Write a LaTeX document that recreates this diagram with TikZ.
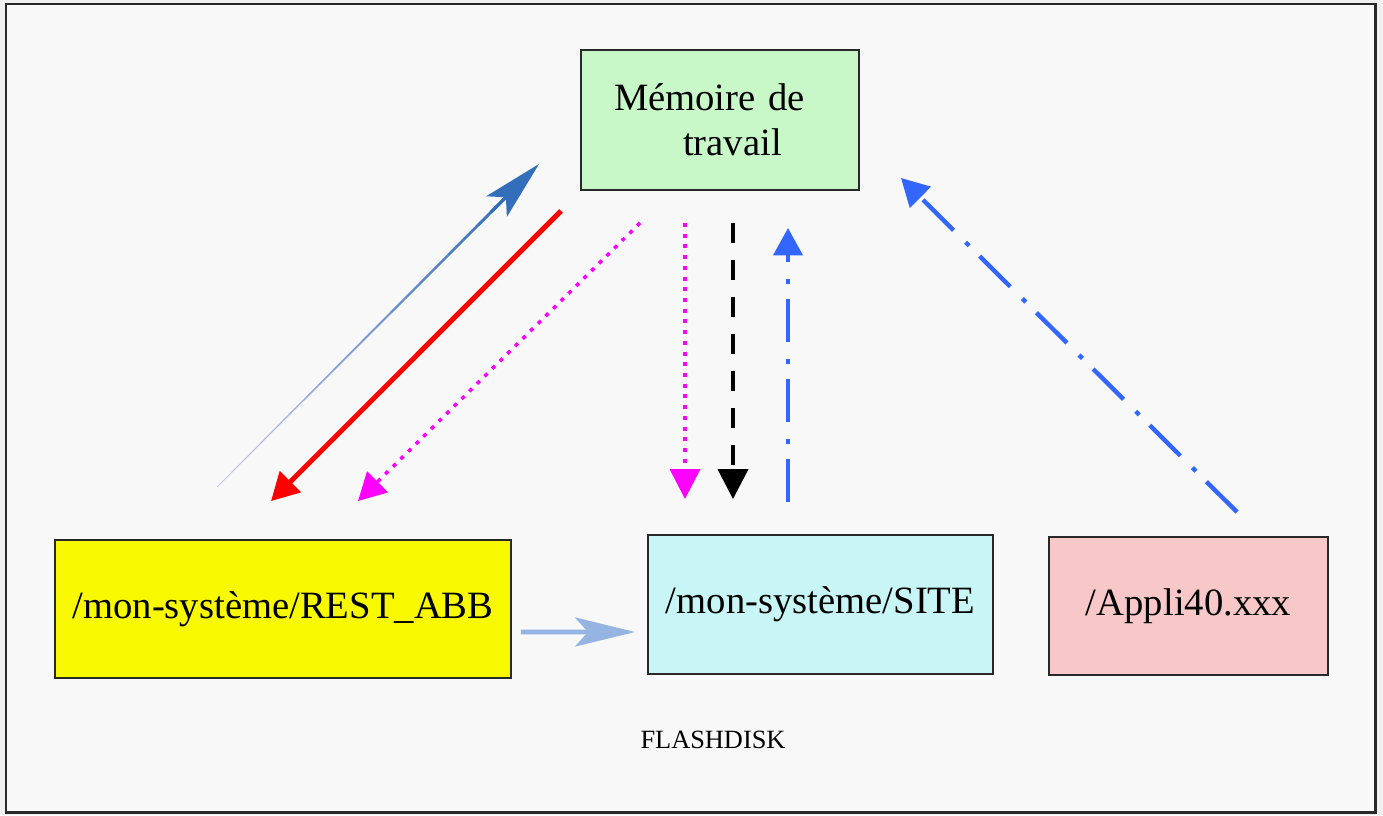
\documentclass[tikz,border=0pt]{standalone}
\usepackage{fontspec}
\setmainfont{Liberation Serif}
\usetikzlibrary{positioning, arrows.meta, calc}
\definecolor{bgcolor}{RGB}{248,248,248}
\definecolor{outcolor}{RGB}{240,240,240}
\definecolor{framecolor}{RGB}{40,40,40}
\definecolor{memcolor}{RGB}{200,248,200}
\definecolor{restcolor}{RGB}{248,248,0}
\definecolor{sitecolor}{RGB}{200,246,246}
\definecolor{applicolor}{RGB}{248,200,200}
\definecolor{dotcolor}{RGB}{255,0,255}
\definecolor{chaincolor}{RGB}{51,102,255}
\definecolor{steelcolor}{RGB}{50,110,185}
\definecolor{lavcolor}{RGB}{205,200,235}
\definecolor{pipecolor}{RGB}{150,180,225}

\begin{document}
\begin{tikzpicture}[x=0.02cm, y=-0.02cm,
    bloc/.style={draw=framecolor, line width=1.1pt, rectangle, inner sep=0pt, font=\fontsize{22}{25.6}\selectfont},
    fadetip/.style={-{Stealth[length=1.2cm, width=0.58cm, inset=0.26cm]}},
    flattip/.style={-{Triangle[length=0.55cm, width=0.58cm]}},
    droptip/.style={-{Triangle[length=0.6cm, width=0.6cm]}},
    chain/.style={chaincolor, line width=2.5pt, dash pattern=on 24.5pt off 8.5pt on 2.8pt off 9.7pt}]
    % Fond et cadre
    \path[use as bounding box, fill=outcolor] (0,0) rectangle (1383,815);
    \draw[framecolor, line width=1.7pt, fill=bgcolor] (6,4) rectangle (1375,812);

    % Blocs
    \node[bloc, fill=memcolor, minimum width=5.56cm, minimum height=2.8cm, text width=4.24cm, align=left] (mem) at (720,120) {Mémoire de\\\hspace*{1.38cm}travail};
    \node[bloc, fill=restcolor, minimum width=9.12cm, minimum height=2.76cm] (rest) at (283,609) {/mon-système/REST\_ABB};
    \node[bloc, fill=sitecolor, minimum width=6.9cm, minimum height=2.78cm] (site) at (820.5,604.5) {/mon-système/SITE};
    \node[bloc, fill=applicolor, minimum width=5.58cm, minimum height=2.76cm] (appli) at (1188.5,606) {/Appli40.xxx};
    \node[font=\fontsize{15}{18}\selectfont] (flash) at (713,740) {FLASHDISK};

    % Fleche degradee (REST_ABB vers memoire)
    \coordinate (up-tail) at ($(rest.north)+(-66,-52)$);
    \coordinate (up-head) at ($(mem.south west)+(-41,-27)$);
    \foreach \i [evaluate=\i as \mix using 10+4.5*\i, evaluate=\i as \lw using 0.4+0.07*\i,
                 evaluate=\i as \a using 0.9*\i/20, evaluate=\i as \b using 0.9*(\i+1)/20] in {0,...,19}
        \draw[line width=\lw pt, steelcolor!\mix!lavcolor] ($(up-tail)!\a!(up-head)$) -- ($(up-tail)!\b!(up-head)$);
    \draw[fadetip, steelcolor, line width=1.8pt] ($(up-tail)!0.85!(up-head)$) -- (up-head);

    % Fleche rouge
    \draw[flattip, red, line width=2.85pt] ($(mem.south west)+(-19,20)$) -- ($(rest.north)+(-12,-38)$);

    % Fleches pointillees magenta
    \draw[flattip, dotcolor, line width=2pt, dash pattern=on 2.3pt off 3.8pt] ($(mem.south)+(-80,32)$) -- ($(rest.north)+(75,-38)$);
    \draw[droptip, dotcolor, line width=2pt, dash pattern=on 2.3pt off 3.8pt] ($(mem.south)+(-35,32)$) -- ($(site.north)+(-135.5,-35)$);

    % Fleche tiretee noire
    \draw[droptip, black, line width=2.3pt, dash pattern=on 11.4pt off 9.7pt] ($(mem.south)+(13,32)$) -- ($(site.north)+(-87.5,-35)$);

    % Fleches mixtes bleues
    \draw[flattip, chain] ($(site.north)+(-32.5,-32)$) -- ($(mem.south)+(68,37)$);
    \draw[flattip, chain] ($(appli.north)+(48.5,-24)$) -- ($(mem.south east)+(41,-13)$);

    % Fleche REST_ABB vers SITE
    \draw[fadetip, pipecolor, line width=2.8pt] ($(rest.east)+(9,23)$) -- ($(site.west)+(-12,27.5)$);
\end{tikzpicture}
\end{document}
